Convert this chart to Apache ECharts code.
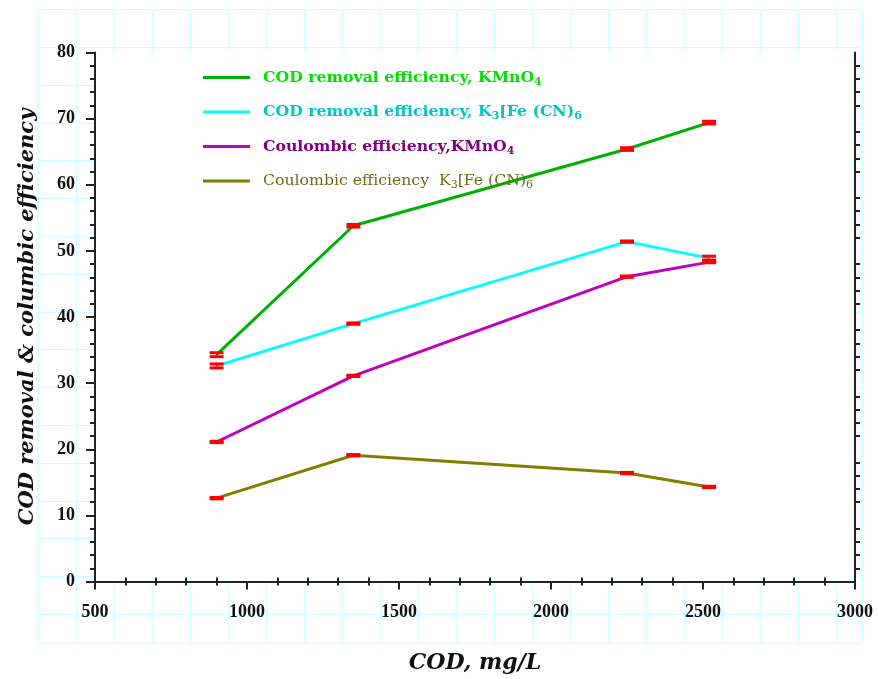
<!DOCTYPE html>
<html>
<head>
<meta charset="utf-8">
<script src="https://cdn.jsdelivr.net/npm/echarts@6/dist/echarts.min.js"></script>
<style>
    html, body { margin: 0; padding: 0; background: #fff; }
    #chart-box { width: 878px; height: 679px; }
</style>
</head>
<body>
<div id="chart-box"></div>
<script>
// COD 浓度 (mg/L)
let codValues = [900, 1350, 2250, 2520]

let seriesNames = [
    "COD removal efficiency, KMnO4",
    "COD removal efficiency, K3[Fe (CN)6",
    "Coulombic efficiency,KMnO4",
    "Coulombic efficiency  K3[Fe (CN)6"
]
let codKMnO4 = [34.3, 53.8, 65.4, 69.4]
let codFeCN = [32.6, 39.0, 51.4, 48.9]
let ceKMnO4 = [21.1, 31.1, 46.1, 48.3]
let ceFeCN = [12.6, 19.1, 16.4, 14.3]

// 误差
let errCodKMnO4 = [0.3, 0.2, 0.2, 0.2]
let errCodFeCN = [0.3, 0.1, 0.1, 0.3]
let errCeKMnO4 = [0.1, 0.1, 0.1, 0.1]
let errCeFeCN = [0.1, 0.1, 0.1, 0.1]

let xTicks = [500, 1000, 1500, 2000, 2500, 3000]
let yTicks = [0, 10, 20, 30, 40, 50, 60, 70, 80]

let lineColors = ["#00b000", "#00ffff", "#c000c0", "#808000"]
let serif = "'Liberation Serif', serif"
let wideSerif = "'DejaVu Serif', serif"

let chart = echarts.init(document.getElementById("chart-box"))

function pairs(ys, errs) {
    let out = []
    for (let i = 0; i < codValues.length; i++) {
        out.push([codValues[i], ys[i], errs ? errs[i] : 0])
    }
    return out
}

function renderError(params, api) {
    let x = api.value(0)
    let y = api.value(1)
    let e = api.value(2)
    let hi = api.coord([x, y + e])
    let lo = api.coord([x, y - e])
    let w = 14
    let h = 3
    return {
        type: "group",
        children: [
            {type: "rect", shape: {x: hi[0] - w / 2, y: hi[1] - h / 2, width: w, height: h}, style: {fill: "#ff0000"}},
            {type: "rect", shape: {x: lo[0] - w / 2, y: lo[1] - h / 2, width: w, height: h}, style: {fill: "#ff0000"}},
            {type: "line", shape: {x1: hi[0], y1: hi[1], x2: lo[0], y2: lo[1]}, style: {stroke: "#ff0000", lineWidth: 1}}
        ]
    }
}

let legendText = {}
legendText[seriesNames[0]] = "{g|COD removal efficiency, KMnO}{gs|4}"
legendText[seriesNames[1]] = "{c|COD removal efficiency, K}{cs|3}{c|[Fe (CN)}{cs|6}"
legendText[seriesNames[2]] = "{m|Coulombic efficiency,KMnO}{ms|4}"
legendText[seriesNames[3]] = "{o|Coulombic efficiency  K}{os|3}{o|[Fe (CN)}{os|6}"

function richPair(color, bold) {
    return [
        {color: color, fontFamily: wideSerif, fontWeight: bold ? "bold" : "normal", fontSize: 15.7, lineHeight: 20},
        {color: color, fontFamily: wideSerif, fontWeight: bold ? "bold" : "normal", fontSize: 11, lineHeight: 20, padding: [9, 0, 0, 0]}
    ]
}
let rg = richPair("#00e000", true)
let rc = richPair("#00c4c8", true)
let rm = richPair("#800080", true)
let ro = richPair("#6e6c14", false)

let lineData = [codKMnO4, codFeCN, ceKMnO4, ceFeCN]
let errData = [errCodKMnO4, errCodFeCN, errCeKMnO4, errCeFeCN]

let series = []
for (let i = 0; i < 4; i++) {
    series.push({
        name: seriesNames[i],
        type: "line",
        xAxisIndex: 0,
        yAxisIndex: 0,
        data: pairs(lineData[i]),
        showSymbol: false,
        symbol: "none",
        lineStyle: {color: lineColors[i], width: 3},
        itemStyle: {color: lineColors[i]},
        z: 3
    })
}
for (let i = 0; i < 4; i++) {
    series.push({
        name: "err" + i,
        type: "custom",
        xAxisIndex: 0,
        yAxisIndex: 0,
        renderItem: renderError,
        data: pairs(lineData[i], errData[i]),
        encode: {x: 0, y: 1},
        z: 5
    })
}

let axisColor = "#222"
let plainNum = function (v) { return String(v) }

let option = {
    backgroundColor: "#fff",
    animation: false,
    grid: [
        {left: 95, top: 52.5, right: 23, bottom: 97.5, show: true, backgroundColor: "#fff", borderWidth: 0, z: 1, outerBoundsMode: "none", containLabel: false},
        // 背景方格纸
        {left: 38, top: 9.5, width: 824, height: 633.5, show: false, z: 0, outerBoundsMode: "none", containLabel: false}
    ],
    legend: {
        orient: "vertical",
        left: 203,
        top: 67.5,
        padding: 0,
        itemWidth: 47,
        itemHeight: 3,
        itemGap: 14.5,
        icon: "rect",
        data: seriesNames,
        formatter: function (name) { return legendText[name] },
        textStyle: {
            padding: [0, 0, 0, 8],
            rich: {g: rg[0], gs: rg[1], c: rc[0], cs: rc[1], m: rm[0], ms: rm[1], o: ro[0], os: ro[1]}
        }
    },
    xAxis: [
        {
            type: "value", gridIndex: 0, position: "bottom",
            min: xTicks[0], max: xTicks[xTicks.length - 1], interval: 500,
            name: "COD, mg/L", nameLocation: "middle", nameGap: 71,
            nameTextStyle: {fontFamily: wideSerif, fontWeight: "bold", fontStyle: "italic", fontSize: 22, color: "#111"},
            axisLine: {lineStyle: {color: axisColor, width: 2}},
            axisTick: {inside: false, length: 8, lineStyle: {color: axisColor, width: 2}},
            minorTick: {show: true, splitNumber: 5, length: 4, lineStyle: {color: axisColor, width: 2}},
            axisLabel: {margin: 22, fontFamily: serif, fontWeight: "bold", fontSize: 18, color: "#111", formatter: plainNum},
            splitLine: {show: false},
            z: 4
        },
        {
            type: "value", gridIndex: 0, position: "top",
            min: xTicks[0], max: xTicks[xTicks.length - 1], interval: 500,
            axisLine: {lineStyle: {color: axisColor, width: 2}},
            axisTick: {show: false},
            minorTick: {show: true, splitNumber: 5, length: 4, lineStyle: {color: axisColor, width: 2}},
            axisLabel: {show: false},
            splitLine: {show: false},
            z: 4
        },
        {
            type: "value", gridIndex: 1, min: 0, max: 824 / 38, interval: 1,
            axisLine: {show: false}, axisTick: {show: false}, axisLabel: {show: false},
            splitLine: {show: true, lineStyle: {color: "#ccffff", width: 1}},
            z: 0
        }
    ],
    yAxis: [
        {
            type: "value", gridIndex: 0, position: "left",
            min: yTicks[0], max: yTicks[yTicks.length - 1], interval: 10,
            name: "COD removal & columbic efficiency", nameLocation: "middle", nameGap: 57,
            nameTextStyle: {fontFamily: wideSerif, fontWeight: "bold", fontStyle: "italic", fontSize: 21, color: "#111"},
            axisLine: {show: true, lineStyle: {color: axisColor, width: 2}},
            axisTick: {show: true, inside: false, length: 9, lineStyle: {color: axisColor, width: 2}},
            minorTick: {show: true, splitNumber: 5, length: 5, lineStyle: {color: axisColor, width: 2}},
            axisLabel: {margin: 20, fontFamily: serif, fontWeight: "bold", fontSize: 18, color: "#111", formatter: plainNum},
            splitLine: {show: false},
            z: 4
        },
        {
            type: "value", gridIndex: 0, position: "right",
            min: yTicks[0], max: yTicks[yTicks.length - 1], interval: 10,
            axisLine: {show: true, lineStyle: {color: axisColor, width: 2}},
            axisTick: {show: false},
            minorTick: {show: true, splitNumber: 5, length: 5, lineStyle: {color: axisColor, width: 2}},
            axisLabel: {show: false},
            splitLine: {show: false},
            z: 4
        },
        {
            type: "value", gridIndex: 1, inverse: true, min: 0, max: 633.5 / 37.8, interval: 1,
            axisLine: {show: false}, axisTick: {show: false}, axisLabel: {show: false},
            splitLine: {show: true, lineStyle: {color: "#ccffff", width: 1}},
            z: 0
        }
    ],
    series: series
}
chart.setOption(option)
chart.resize()
</script>
</body>
</html>
